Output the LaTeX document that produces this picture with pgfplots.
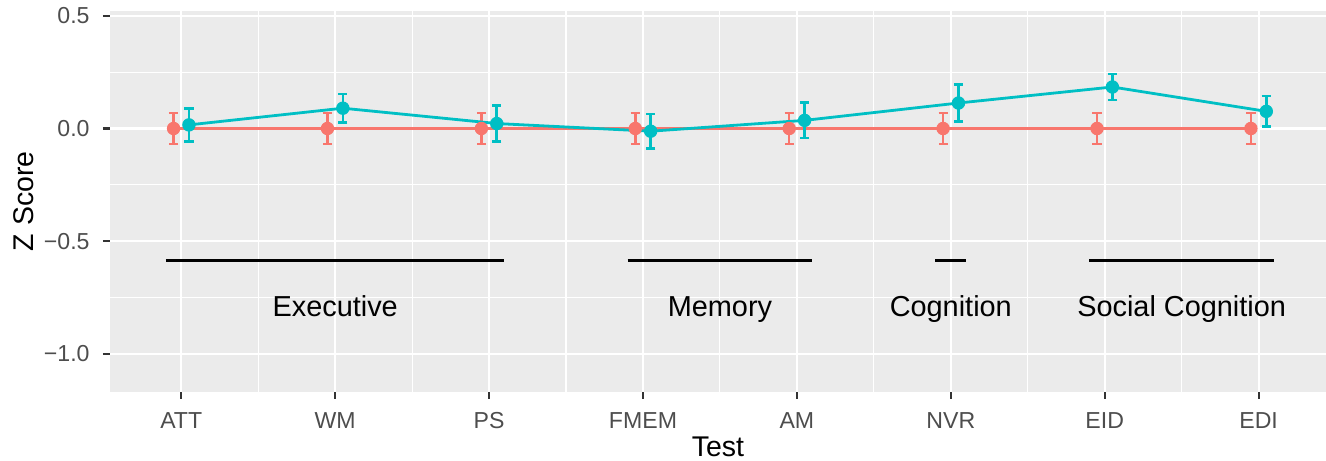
\documentclass[border=0pt]{standalone}
\usepackage{fontspec}
\setmainfont{Liberation Sans}
\usepackage{pgfplots}
\pgfplotsset{compat=1.18}
\definecolor{cred}{HTML}{F8766D}
\definecolor{cteal}{HTML}{00BFC4}
\definecolor{panelc}{HTML}{EBEBEB}
\definecolor{tickc}{HTML}{4D4D4D}
\definecolor{tickm}{HTML}{333333}
\begin{document}
\begin{tikzpicture}
\useasboundingbox (-55bp,-34.65bp) rectangle (608bp,195.85bp);
\begin{axis}[
 at={(0,0)}, anchor=south west,
 scale only axis, width=608bp, height=190.35bp,
 xmin=-0.463, xmax=7.438, ymin=-1.167, ymax=0.521,
 axis background/.style={fill=panelc},
 axis line style={draw=none},
 xtick={0,...,7}, xticklabels={ATT,WM,PS,FMEM,AM,NVR,EID,EDI},
 ytick={-1,-0.5,0,0.5}, yticklabels={−1.0,−0.5,0.0,0.5},
 minor xtick={0.5,1.5,...,6.5}, minor ytick={-0.75,-0.25,0.25},
 grid=both,
 major grid style={white, line width=1.1bp},
 minor grid style={white, line width=0.55bp},
 tick align=outside, tick pos=left,
 major tick length=3.5bp, minor tick length=0pt,
 major tick style={tickm, line width=1.1bp},
 minor tick style={draw=none},
 xticklabel style={font=\fontsize{11.6}{13}\selectfont, text=tickc, inner sep=0pt, anchor=base, yshift=-15bp},
 yticklabel style={font=\fontsize{11.6}{13}\selectfont, text=tickc, inner sep=0pt, anchor=east, xshift=-6.5bp},
 xlabel={Test}, ylabel={Z Score},
 xlabel style={font=\fontsize{14.3}{16}\selectfont, at={(axis description cs:0.5,-0.1707)}, anchor=base, inner sep=0pt},
 ylabel style={font=\fontsize{14.3}{16}\selectfont, at={(axis description cs:-0.0633,0.5)}, anchor=base, inner sep=0pt},
 clip=false,
]
% reference group (red)
\addplot[cred, line width=1.4bp, mark=*, mark size=3.1bp, mark options={solid, fill=cred, draw=cred, line width=0.5bp},
  error bars/.cd, y dir=both, y explicit,
  error bar style={line width=1.3bp, cred},
  error mark options={rotate=90, mark size=2.3bp, line width=1.3bp, cred}]
  table[x=x, y=y, y error=e] {
x y e
-0.05 0 0.068
0.95 0 0.068
1.95 0 0.068
2.95 0 0.068
3.95 0 0.068
4.95 0 0.068
5.95 0 0.068
6.95 0 0.068
};
% comparison group (teal)
\addplot[cteal, line width=1.4bp, mark=*, mark size=3.1bp, mark options={solid, fill=cteal, draw=cteal, line width=0.5bp},
  error bars/.cd, y dir=both, y explicit,
  error bar style={line width=1.3bp, cteal},
  error mark options={rotate=90, mark size=2.3bp, line width=1.3bp, cteal}]
  table[x=x, y=y, y error=e] {
x y e
0.05 0.016 0.073
1.05 0.090 0.063
2.05 0.022 0.079
3.05 -0.012 0.076
4.05 0.036 0.078
5.05 0.113 0.081
6.05 0.184 0.058
7.05 0.076 0.068
};
% domain segments
\addplot[black, line width=1.5bp] coordinates {(-0.1,-0.587) (2.1,-0.587)};
\addplot[black, line width=1.5bp] coordinates {(2.9,-0.587) (4.1,-0.587)};
\addplot[black, line width=1.5bp] coordinates {(4.9,-0.587) (5.1,-0.587)};
\addplot[black, line width=1.5bp] coordinates {(5.9,-0.587) (7.1,-0.587)};
\node[anchor=base, font=\fontsize{14.5}{16}\selectfont] at (axis cs:1,-0.834) {Executive};
\node[anchor=base, font=\fontsize{14.5}{16}\selectfont] at (axis cs:3.5,-0.834) {Memory};
\node[anchor=base, font=\fontsize{14.5}{16}\selectfont] at (axis cs:5,-0.834) {Cognition};
\node[anchor=base, font=\fontsize{14.5}{16}\selectfont] at (axis cs:6.5,-0.834) {Social Cognition};
\end{axis}
\end{tikzpicture}
\end{document}
